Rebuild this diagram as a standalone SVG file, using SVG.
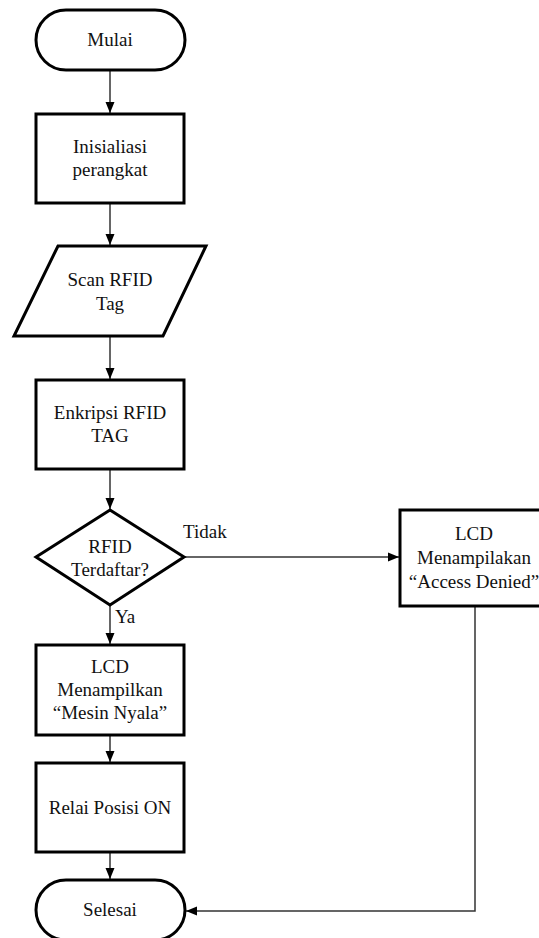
<svg xmlns="http://www.w3.org/2000/svg" width="539" height="938" viewBox="0 0 539 938">
<style>
.shape{fill:#fff;stroke:#000;stroke-width:3;stroke-linejoin:miter}
.conn{fill:none;stroke:#333;stroke-width:1.5}
text{font-family:"Liberation Serif","Times New Roman",serif;font-size:19px;fill:#111;text-anchor:middle}
.lbl{text-anchor:start}
</style>
<defs>
<marker id="arr" markerUnits="userSpaceOnUse" markerWidth="12" markerHeight="12" viewBox="0 0 12 12" refX="11" refY="6" orient="auto">
<path d="M0,1.5 L11,6 L0,10.5 Z" fill="#000"/>
</marker>
</defs>
<rect width="539" height="938" fill="#fff"/>
<g id="connectors">
<line class="conn" x1="110" y1="70" x2="110" y2="113" marker-end="url(#arr)"/>
<line class="conn" x1="110" y1="203" x2="110" y2="245" marker-end="url(#arr)"/>
<line class="conn" x1="110" y1="336" x2="110" y2="379" marker-end="url(#arr)"/>
<line class="conn" x1="110" y1="469" x2="110" y2="509" marker-end="url(#arr)"/>
<line class="conn" x1="110" y1="605" x2="110" y2="644" marker-end="url(#arr)"/>
<line class="conn" x1="110" y1="735" x2="110" y2="762" marker-end="url(#arr)"/>
<line class="conn" x1="110" y1="852" x2="110" y2="879" marker-end="url(#arr)"/>
<line class="conn" x1="184" y1="557" x2="399" y2="557" marker-end="url(#arr)"/>
<polyline class="conn" points="475,606 475,911 186,911" marker-end="url(#arr)"/>
<text class="lbl" x="183" y="538">Tidak</text>
<text class="lbl" x="115" y="623">Ya</text>
</g>
<g id="mulai">
<rect class="shape" x="36" y="10" width="149" height="60" rx="30" ry="30"/>
<text x="110" y="46">Mulai</text>
</g>
<g id="inisialisasi">
<rect class="shape" x="36" y="114" width="148" height="89"/>
<text x="110" y="153">Inisialiasi</text>
<text x="110" y="176">perangkat</text>
</g>
<g id="scan">
<polygon class="shape" points="58,246 206,246 163,336 14,336"/>
<text x="110" y="286">Scan RFID</text>
<text x="110" y="310">Tag</text>
</g>
<g id="enkripsi">
<rect class="shape" x="36" y="380" width="148" height="89"/>
<text x="110" y="419">Enkripsi RFID</text>
<text x="110" y="442">TAG</text>
</g>
<g id="decision">
<polygon class="shape" points="110,510 184,557 110,605 36,557"/>
<text x="110" y="553">RFID</text>
<text x="110" y="576">Terdaftar?</text>
</g>
<g id="lcd-nyala">
<rect class="shape" x="36" y="645" width="148" height="90"/>
<text x="110" y="673">LCD</text>
<text x="110" y="696">Menampilkan</text>
<text x="110" y="719">“Mesin Nyala”</text>
</g>
<g id="relai">
<rect class="shape" x="36" y="763" width="148" height="89"/>
<text x="110" y="814">Relai Posisi ON</text>
</g>
<g id="selesai">
<rect class="shape" x="36" y="880" width="149" height="60" rx="30" ry="30"/>
<text x="110" y="916">Selesai</text>
</g>
<g id="lcd-denied">
<rect class="shape" x="400" y="510" width="148" height="96"/>
<text x="474" y="540">LCD</text>
<text x="474" y="564">Menampilakan</text>
<text x="474" y="588">“Access Denied”</text>
</g>
</svg>
